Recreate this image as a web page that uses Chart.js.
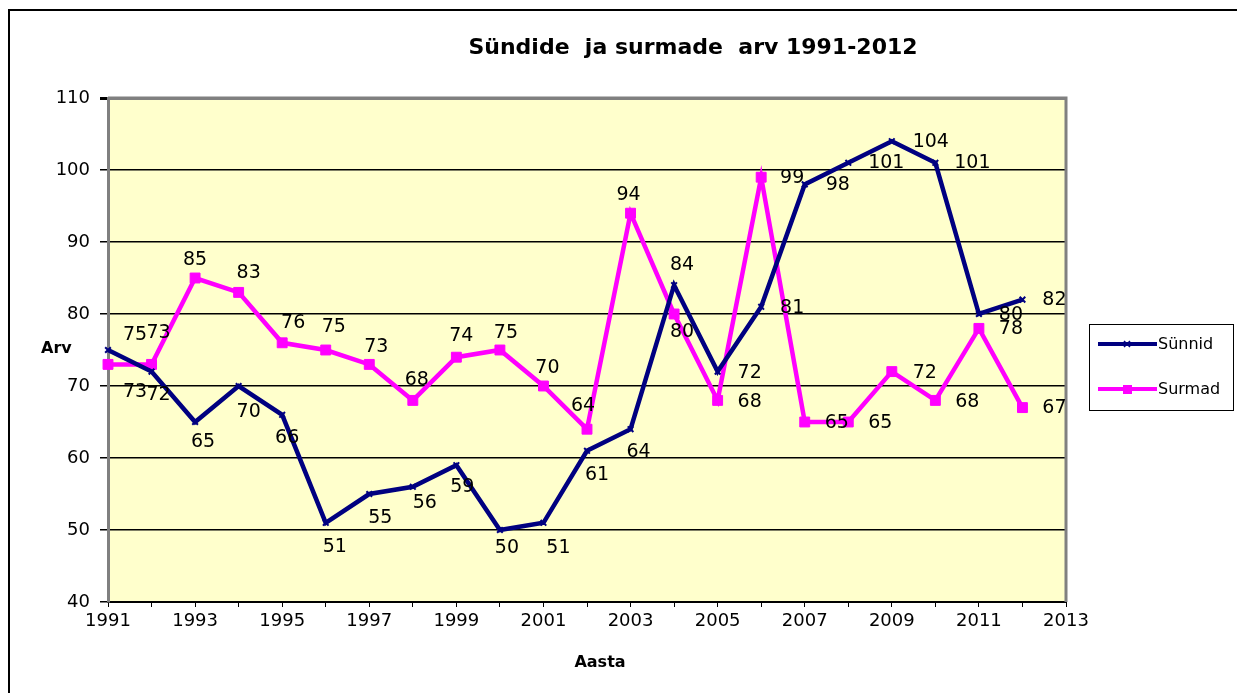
<!DOCTYPE html>
<html>
<head>
<meta charset="utf-8">
<script src="https://cdn.jsdelivr.net/npm/chart.js@4"></script>
<style>
  html, body { margin: 0; padding: 0; background: #fff; }
  #wrap { width: 1237px; height: 693px; position: relative; }
</style>
</head>
<body>
<div id="wrap"><canvas id="chart"></canvas></div>
<script>
const chartTitle = 'Sündide  ja surmade  arv 1991-2012';
const yTitle = 'Arv';
const xTitle = 'Aasta';
const seriesNames = ['Sünnid', 'Surmad'];

const years = [1991, 1992, 1993, 1994, 1995, 1996, 1997, 1998, 1999, 2000, 2001,
               2002, 2003, 2004, 2005, 2006, 2007, 2008, 2009, 2010, 2011, 2012];
const births = [75, 72, 65, 70, 66, 51, 55, 56, 59, 50, 51, 61, 64, 84, 72, 81, 98, 101, 104, 101, 80, 82];
const deaths = [73, 73, 85, 83, 76, 75, 73, 68, 74, 75, 70, 64, 94, 80, 68, 99, 65, 65, 72, 68, 78, 67];

const xMin = 1991, xMax = 2013;
const yMin = 40, yMax = 110, yStep = 10;

// where each value label sits relative to its point (dx, dy in px)
const birthLabelPos = [[27,-15],[7,23],[8,20],[10,26],[5,23],[9,24],[11,24],[12,16],[6,22],[7,18],[15,25],
                       [10,24],[8,23],[8,-20],[32,1],[31,1],[33,1],[38,0],[39,1],[37,0],[32,1],[32,0]];
const deathLabelPos = [[27,28],[7,-31],[0,-18],[10,-19],[11,-20],[8,-23],[7,-17],[4,-20],[5,-21],[6,-17],[4,-18],
                       [-4,-23],[-2,-18],[8,18],[32,2],[31,1],[32,1],[32,1],[33,1],[32,2],[32,1],[32,0]];

const navy = '#000080';
const magenta = '#ff00ff';
const fontFamily = '"DejaVu Sans", sans-serif';

const decor = {
    id: 'decor',
    beforeDraw(chart) {
        const { ctx, chartArea: a } = chart;
        ctx.save();
        ctx.fillStyle = '#ffffcc';
        ctx.fillRect(a.left, a.top, a.right - a.left, a.bottom - a.top);
        ctx.restore();
    },
    beforeDatasetsDraw(chart) {
        const { ctx, chartArea: a } = chart;
        ctx.save();
        ctx.strokeStyle = '#808080';
        ctx.lineWidth = 3;
        ctx.beginPath();
        ctx.moveTo(a.left, a.top);
        ctx.lineTo(a.right, a.top);
        ctx.lineTo(a.right, a.bottom);
        ctx.stroke();
        ctx.restore();
    },
    afterDraw(chart) {
        const { ctx } = chart;
        ctx.save();
        // outer frame
        ctx.strokeStyle = '#000';
        ctx.lineWidth = 2;
        ctx.beginPath();
        ctx.moveTo(9, 700);
        ctx.lineTo(9, 10);
        ctx.lineTo(1240, 10);
        ctx.stroke();

        ctx.fillStyle = '#000';
        ctx.textBaseline = 'middle';
        ctx.textAlign = 'center';
        ctx.font = 'bold 22px ' + fontFamily;
        ctx.fillText(chartTitle, 693, 48);
        ctx.font = 'bold 16px ' + fontFamily;
        ctx.textAlign = 'left';
        ctx.fillText(yTitle, 41, 349);
        ctx.textAlign = 'center';
        ctx.fillText(xTitle, 600, 663);

        // legend
        ctx.lineWidth = 1;
        ctx.strokeRect(1089.5, 324.5, 144, 86);
        ctx.lineWidth = 4;
        ctx.strokeStyle = navy;
        ctx.beginPath(); ctx.moveTo(1098, 344); ctx.lineTo(1157, 344); ctx.stroke();
        ctx.lineWidth = 1.5;
        ctx.beginPath();
        ctx.moveTo(1124, 341); ctx.lineTo(1130, 347);
        ctx.moveTo(1130, 341); ctx.lineTo(1124, 347);
        ctx.stroke();
        ctx.lineWidth = 4;
        ctx.strokeStyle = magenta;
        ctx.beginPath(); ctx.moveTo(1098, 389); ctx.lineTo(1157, 389); ctx.stroke();
        ctx.fillStyle = magenta;
        ctx.fillRect(1123, 385, 9, 9);
        ctx.fillStyle = '#000';
        ctx.textAlign = 'left';
        ctx.font = '16px ' + fontFamily;
        ctx.fillText(seriesNames[0], 1158, 345);
        ctx.fillText(seriesNames[1], 1158, 390);
        ctx.restore();
    },
    afterDatasetsDraw(chart) {
        const { ctx } = chart;
        ctx.save();
        ctx.font = '19px ' + fontFamily;
        ctx.fillStyle = '#000';
        ctx.textAlign = 'center';
        ctx.textBaseline = 'middle';
        [birthLabelPos, deathLabelPos].forEach((pos, di) => {
            const meta = chart.getDatasetMeta(di);
            const vals = chart.data.datasets[di].data;
            meta.data.forEach((pt, i) => {
                ctx.fillText(String(vals[i].y), pt.x + pos[i][0], pt.y + pos[i][1]);
            });
        });
        ctx.restore();
    }
};

new Chart(document.getElementById('chart'), {
    type: 'line',
    data: {
        datasets: [
            {
                label: seriesNames[0],
                data: years.map((y, i) => ({ x: y, y: births[i] })),
                borderColor: navy,
                backgroundColor: navy,
                borderWidth: 4.5,
                pointStyle: 'crossRot',
                pointRadius: 4,
                pointBorderWidth: 2,
                pointBorderColor: navy,
                tension: 0,
                clip: false
            },
            {
                label: seriesNames[1],
                data: years.map((y, i) => ({ x: y, y: deaths[i] })),
                borderColor: magenta,
                backgroundColor: magenta,
                borderWidth: 4.5,
                pointStyle: 'rect',
                pointRadius: 7,
                pointBorderWidth: 1,
                pointBorderColor: magenta,
                pointBackgroundColor: magenta,
                tension: 0,
                clip: false
            }
        ]
    },
    options: {
        responsive: true,
        maintainAspectRatio: false,
        animation: false,
        layout: { padding: { left: 0, top: 98, right: 171, bottom: 51 } },
        plugins: { legend: { display: false }, tooltip: { enabled: false }, title: { display: false } },
        scales: {
            x: {
                type: 'linear',
                min: xMin,
                max: xMax,
                afterFit: s => { s.height = 40; },
                border: { color: '#000', width: 2 },
                grid: { drawOnChartArea: false, drawTicks: true, tickLength: 5, color: '#000', lineWidth: 1 },
                ticks: {
                    stepSize: 1,
                    autoSkip: false,
                    maxRotation: 0,
                    padding: 4,
                    color: '#000',
                    font: { family: fontFamily, size: 18 },
                    callback: v => (v % 2 === 1 ? String(v) : '')
                }
            },
            y: {
                min: yMin,
                max: yMax,
                afterFit: s => { s.width = 108; },
                border: { color: '#808080', width: 3 },
                grid: {
                    color: c => (c.tick && c.tick.value === yMax ? '#808080' : '#000'),
                    lineWidth: c => (c.tick && c.tick.value === yMax ? 3 : 1.5),
                    tickColor: '#000',
                    tickLength: 8
                },
                ticks: {
                    stepSize: yStep,
                    padding: 10,
                    color: '#000',
                    font: { family: fontFamily, size: 18 }
                }
            }
        }
    },
    plugins: [decor]
});
</script>
</body>
</html>
